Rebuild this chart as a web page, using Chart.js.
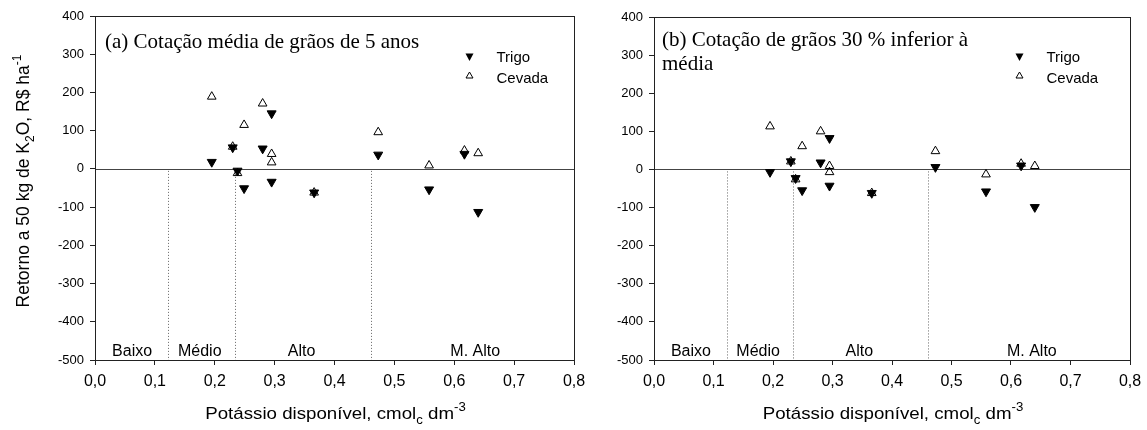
<!DOCTYPE html>
<html>
<head>
<meta charset="utf-8">
<script src="https://cdn.jsdelivr.net/npm/chart.js@4.4.1/dist/chart.umd.min.js"></script>
<style>
  body { margin: 0; background: #fff; }
  #wrap { position: relative; width: 1147px; height: 430px; }
  canvas { position: absolute; top: 0; }
</style>
</head>
<body>
<div id="wrap">
  <canvas id="chartA" width="600" height="430" style="left:0px"></canvas>
  <canvas id="chartB" width="567" height="430" style="left:580px"></canvas>
</div>
<script>
// K disponivel (cmolc dm-3) das areas
const potassio = [0.195, 0.230, 0.238, 0.249, 0.280, 0.295, 0.295, 0.366, 0.473, 0.558, 0.617, 0.640];
// (a) cotacao media de 5 anos
const trigoA = [18, 56, -5, -51, 53, 145, -34, -62, 37, -54, 39, -113];
const cevadaA = [189, 58, -11, 115, 171, 39, 17, -62, 96, 9, 48, 41];
// (b) cotacao 30 % inferior
const trigoB = [-7, 21, -23, -55, 18, 82, -43, -62, 6, -58, 10, -99];
const cevadaB = [113, 21, -26, 61, 100, 9, -7, -62, 48, -13, 15, 9];
// limites de classes e rotulos
const limites = [0.122, 0.233, 0.461];
const classes = ['Baixo', 'Médio', 'Alto', 'M. Alto'];
const classPos = [0.062, 0.175, 0.345, 0.635];
const xTicks = [0, 0.1, 0.2, 0.3, 0.4, 0.5, 0.6, 0.7, 0.8];
const yTicks = [-500, -400, -300, -200, -100, 0, 100, 200, 300, 400];

const SANS = '"Liberation Sans", Arial, sans-serif';
const SERIF = '"Liberation Serif", "Times New Roman", serif';

function toPoints(xs, ys) {
  return xs.map((x, i) => ({ x: x, y: ys[i] }));
}

// draws text pieces with sub/superscripts, centered at (cx, cy); hs = horizontal stretch
function richText(ctx, parts, cx, cy, size, hs) {
  hs = hs || 1;
  const small = Math.round(size * 0.7);
  let w = 0;
  parts.forEach(p => {
    ctx.font = (p.s ? small : size) + 'px ' + SANS;
    p.w = ctx.measureText(p.t).width;
    w += p.w;
  });
  ctx.save();
  ctx.translate(cx, cy);
  ctx.scale(hs, 1);
  let x = -w / 2;
  ctx.textAlign = 'left';
  ctx.textBaseline = 'alphabetic';
  parts.forEach(p => {
    ctx.font = (p.s ? small : size) + 'px ' + SANS;
    let dy = 0;
    if (p.s === 'sub') dy = size * 0.3;
    if (p.s === 'sup') dy = -size * 0.45;
    ctx.fillText(p.t, x, dy);
    x += p.w;
  });
  ctx.restore();
}

const decor = {
  id: 'decor',
  beforeDatasetsDraw(chart, args, opts) {
    const ctx = chart.ctx, a = chart.chartArea;
    const xs = chart.scales.x, ys = chart.scales.y;
    ctx.save();
    // zero line
    ctx.strokeStyle = '#444';
    ctx.lineWidth = 1;
    ctx.beginPath();
    ctx.moveTo(a.left, Math.round(ys.getPixelForValue(0)) + 0.5);
    ctx.lineTo(a.right, Math.round(ys.getPixelForValue(0)) + 0.5);
    ctx.stroke();
    // dotted class limits
    ctx.strokeStyle = '#666';
    ctx.setLineDash([1, 2]);
    limites.forEach(v => {
      const px = Math.round(xs.getPixelForValue(v)) + 0.5;
      ctx.beginPath();
      ctx.moveTo(px, ys.getPixelForValue(0) + 2);
      ctx.lineTo(px, a.bottom);
      ctx.stroke();
    });
    ctx.setLineDash([]);
    // class labels
    ctx.fillStyle = '#000';
    ctx.font = '16px ' + SANS;
    ctx.textAlign = 'center';
    ctx.textBaseline = 'alphabetic';
    classes.forEach((c, i) => {
      ctx.fillText(c, xs.getPixelForValue(classPos[i]), ys.getPixelForValue(-500) - 4);
    });
    ctx.restore();
  },
  afterDraw(chart, args, opts) {
    const ctx = chart.ctx, a = chart.chartArea;
    ctx.save();
    ctx.strokeStyle = '#222';
    ctx.lineWidth = 1;
    ctx.strokeRect(a.left + 0.5, a.top + 0.5, a.right - a.left, a.bottom - a.top);
    // panel title
    ctx.fillStyle = '#000';
    ctx.font = '21px ' + SERIF;
    ctx.textAlign = 'left';
    ctx.textBaseline = 'alphabetic';
    opts.title.forEach((t, i) => ctx.fillText(t, a.left + opts.titleDx, opts.titleY + i * 24));
    // legend
    const lx = opts.legendX, ly = 57;
    ctx.fillStyle = '#000';
    ctx.beginPath();
    ctx.moveTo(lx - 4, ly - 3.5); ctx.lineTo(lx + 4, ly - 3.5); ctx.lineTo(lx, ly + 4); ctx.closePath();
    ctx.fill();
    ctx.strokeStyle = '#000';
    ctx.beginPath();
    ctx.moveTo(lx - 3.5, ly + 21); ctx.lineTo(lx + 3.5, ly + 21); ctx.lineTo(lx, ly + 15); ctx.closePath();
    ctx.stroke();
    ctx.font = '15px ' + SANS;
    ctx.textBaseline = 'alphabetic';
    ctx.fillText('Trigo', lx + 27, ly + 5);
    ctx.fillText('Cevada', lx + 27, ly + 26);
    // x title
    ctx.fillStyle = '#000';
    richText(ctx, [{ t: 'Potássio disponível, cmol' }, { t: 'c', s: 'sub' }, { t: ' dm' }, { t: '-3', s: 'sup' }],
      (a.left + a.right) / 2 + 1, 419, 17, 1.1);
    // y title
    if (opts.yTitle) {
      ctx.translate(28.5, 181);
      ctx.rotate(-Math.PI / 2);
      richText(ctx, [{ t: 'Retorno a 50 kg de K' }, { t: '2', s: 'sub' }, { t: 'O, R$ ha' }, { t: '-1', s: 'sup' }], 0, 0, 17.5);
    }
    ctx.restore();
  }
};

function makeChart(id, trigo, cevada, yWidth, pad, plug) {
  return new Chart(document.getElementById(id).getContext('2d'), {
    type: 'scatter',
    data: {
      datasets: [{
        label: 'Trigo',
        data: toPoints(potassio, trigo),
        pointStyle: 'triangle',
        rotation: 180,
        radius: 5.2,
        backgroundColor: '#000',
        borderColor: '#000',
        borderWidth: 1
      }, {
        label: 'Cevada',
        data: toPoints(potassio, cevada),
        pointStyle: 'triangle',
        radius: 5,
        backgroundColor: 'rgba(255,255,255,0)',
        borderColor: '#000',
        borderWidth: 1
      }]
    },
    options: {
      responsive: false,
      animation: false,
      layout: { padding: pad },
      plugins: { legend: { display: false }, tooltip: { enabled: false }, decor: plug },
      scales: {
        x: {
          type: 'linear', min: 0, max: 0.8,
          afterBuildTicks: s => { s.ticks = xTicks.map(v => ({ value: v })); },
          afterFit: s => { s.height = 70; s.paddingLeft = 0; s.paddingRight = 0; },
          ticks: {
            color: '#000', font: { family: SANS, size: 16 }, padding: 7, maxRotation: 0,
            callback: v => v.toFixed(1).replace('.', ',')
          },
          grid: { drawOnChartArea: false, drawTicks: true, tickLength: 5, color: '#222' },
          border: { display: true, color: '#222' }
        },
        y: {
          min: -500, max: 400,
          afterBuildTicks: s => { s.ticks = yTicks.map(v => ({ value: v })); },
          afterFit: s => { s.width = yWidth; s.paddingTop = 0; s.paddingBottom = 0; },
          ticks: { color: '#000', font: { family: SANS, size: 13 }, padding: 6, callback: v => String(v) },
          grid: { drawOnChartArea: false, drawTicks: true, tickLength: 5, color: '#222' },
          border: { display: true, color: '#222' }
        }
      }
    },
    plugins: [decor]
  });
}

makeChart('chartA', trigoA, cevadaA, 95, { top: 16, right: 26, left: 0, bottom: 0 },
  { title: ['(a) Cotação média de grãos de 5 anos'], titleDx: 10, titleY: 48, legendX: 469.5, yTitle: true });
makeChart('chartB', trigoB, cevadaB, 74, { top: 17, right: 17, left: 0, bottom: 0 },
  { title: ['(b) Cotação de grãos 30 % inferior à', 'média'], titleDx: 8, titleY: 46, legendX: 439.5, yTitle: false });
</script>
</body>
</html>
